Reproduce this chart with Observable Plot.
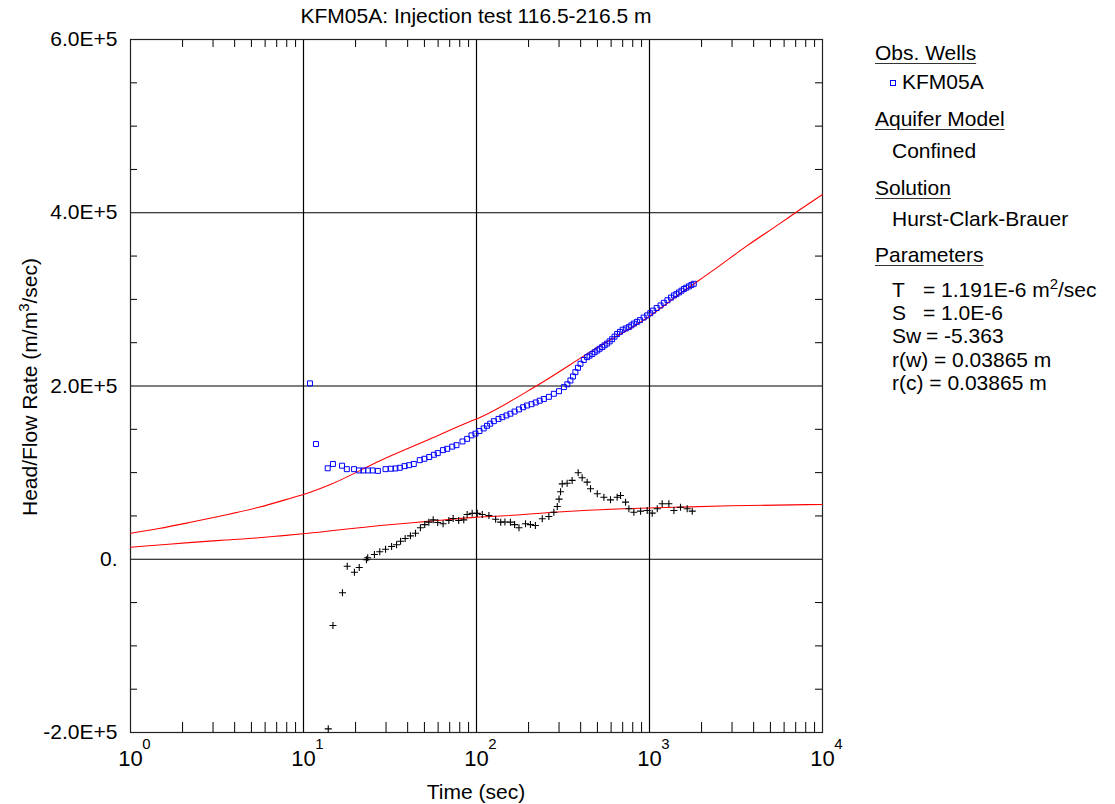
<!DOCTYPE html>
<html>
<head>
<meta charset="utf-8">
<script src="https://cdn.jsdelivr.net/npm/d3@7"></script>
<script src="https://cdn.jsdelivr.net/npm/@observablehq/plot@0.6"></script>
<style>
  body { margin: 0; background: #fff; }
  #wrap { position: relative; width: 1115px; height: 804px; font-family: "Liberation Sans", Arial, sans-serif; color: #000; }
  .t { position: absolute; white-space: nowrap; font-size: 21px; line-height: 21px; }
  .u { text-decoration: underline; text-decoration-thickness: 1px; text-underline-offset: 3px; text-decoration-color: #333; }
  sup { font-size: 15px; line-height: 0; vertical-align: 8px; }
  #plotbox { position: absolute; left: 0; top: 0; }
</style>
</head>
<body>
<div id="wrap"><div id="plotbox"></div></div>
<script>
// ---------- data ----------
const titleText = "KFM05A: Injection test 116.5-216.5 m";
const xLabelText = "Time (sec)";

// x axis (log): decades and their exponent labels
const xMajor = [1, 10, 100, 1000, 10000];
const xExpLabels = ["0", "1", "2", "3", "4"];
const xGrid = [10, 100, 1000];
const xMinor = [2,3,4,5,6,7,8,9,20,30,40,50,60,70,80,90,200,300,400,500,600,700,800,900,2000,3000,4000,5000,6000,7000,8000,9000];

// y axis
const yTicks = [-200000, 0, 200000, 400000, 600000];
const yTickLabels = ["-2.0E+5", "0.", "2.0E+5", "4.0E+5", "6.0E+5"];
const yGrid = [0, 200000, 400000];
const yMinor = [-150000,-100000,-50000,50000,100000,150000,250000,300000,350000,450000,500000,550000];

// observed head/flow (blue squares), t in sec, value in 1E5 units
const obsT = [10.9,11.8,13.8,14.8,16.7,17.8,19.6,20.9,22.2,23.6,25.1,26.9,29.8,32,34,36,38.4,40.8,43.4,47,50,53.3,56.7,59.7,64.1,67.7,72.4,76.6,83,88.3,93.5,98.6,104,110,115,120,126,134,141,149,157,166,176,186,196,208,220,232,245,262,280,300,320,335,349,361,373,386,399,417,436,450,467,482,499,515,533,550,569,588,608,628,650,675,700,730,760,785,812,845,880,925,970,1010,1050,1100,1158,1210,1270,1330,1384,1430,1480,1530,1580,1630,1690,1745,1803];
const obsH = [2.03,1.33,1.05,1.10,1.08,1.04,1.04,1.025,1.025,1.025,1.025,1.02,1.04,1.045,1.048,1.056,1.075,1.086,1.10,1.144,1.16,1.18,1.206,1.225,1.26,1.275,1.30,1.317,1.36,1.39,1.43,1.45,1.48,1.51,1.54,1.565,1.594,1.62,1.64,1.66,1.68,1.705,1.73,1.755,1.775,1.79,1.81,1.83,1.85,1.875,1.91,1.94,1.987,2.02,2.064,2.11,2.16,2.21,2.257,2.30,2.333,2.35,2.37,2.39,2.41,2.43,2.45,2.47,2.49,2.515,2.54,2.57,2.60,2.625,2.65,2.665,2.68,2.70,2.72,2.74,2.76,2.79,2.815,2.84,2.87,2.90,2.93,2.96,2.99,3.02,3.045,3.06,3.08,3.10,3.12,3.135,3.15,3.165,3.18];

// derivative (black crosses)
const derT = [13.9,14.8,16.8,17.9,19.7,21,23.1,23.5,25.7,27.6,29.8,32.3,34.5,36.4,38.7,41.5,44.4,47.4,50.2,53,56.2,59.7,64.1,69.2,73.3,78.9,84.4,88.3,94.4,101,108,118,129,138,146,157,166,176,192,205,219,240,262,280,293,300,306,313,334,357,387,408,436,456,499,545,595,650,680,727,760,812,888,970,1037,1109,1184,1294,1384,1511,1651,1766];
const derH = [-1.958,-0.765,-0.387,-0.08,-0.15,-0.095,-0.006,0.017,0.055,0.086,0.116,0.147,0.167,0.208,0.24,0.27,0.30,0.363,0.40,0.428,0.455,0.424,0.41,0.447,0.47,0.447,0.455,0.517,0.53,0.53,0.517,0.505,0.462,0.428,0.43,0.428,0.40,0.363,0.41,0.40,0.39,0.467,0.494,0.543,0.609,0.694,0.78,0.87,0.878,0.91,0.998,0.94,0.89,0.813,0.756,0.716,0.686,0.716,0.736,0.659,0.583,0.543,0.555,0.563,0.532,0.583,0.64,0.64,0.563,0.60,0.583,0.555];

// fitted model curve (red, upper)
const fitT = [1,1.46,2.27,3.54,5.52,8.6,10.3,14.3,27.9,54.2,80.9,105.5,224,477,991,1511,2354,3672,5717,6980,10000];
const fitH = [0.30,0.355,0.43,0.51,0.60,0.71,0.756,0.863,1.14,1.39,1.545,1.64,2.006,2.42,2.80,3.07,3.34,3.62,3.88,4.0,4.21];

// fitted derivative curve (red, lower)
const fitDT = [1,1.46,2.27,3.54,5.52,7.36,10.3,27.9,54.2,101,138,280,710,1384,2940,10000];
const fitDH = [0.139,0.165,0.195,0.222,0.248,0.27,0.297,0.39,0.44,0.486,0.499,0.543,0.583,0.60,0.617,0.632];

// legend texts
const legendWell = "KFM05A";
const legendModel = "Confined";
const legendSolution = "Hurst-Clark-Brauer";

// ---------- build ----------
const E5 = 100000;
const obs = obsT.map((t, i) => ({t, h: obsH[i] * E5}));
const der = derT.map((t, i) => ({t, h: derH[i] * E5}));
const fit = fitT.map((t, i) => ({t, h: fitH[i] * E5}));
const fitD = fitDT.map((t, i) => ({t, h: fitDH[i] * E5}));
const yLabelMap = new Map(yTicks.map((v, i) => [v, yTickLabels[i]]));
const expMap = new Map(xMajor.map((v, i) => [v, xExpLabels[i]]));

const W = 1115, H = 804, mL = 130, mR = 293, mT = 39, mB = 72;
const frameW = W - mL - mR, frameH = H - mT - mB;

const chart = Plot.plot({
  width: W, height: H,
  marginLeft: mL, marginRight: mR, marginTop: mT, marginBottom: mB,
  style: { fontFamily: "Liberation Sans, Arial, sans-serif", fontSize: "21px", background: "white", color: "black", overflow: "visible" },
  x: { type: "log", domain: [1, 10000], axis: null },
  y: { domain: [-200000, 600000] },
  marks: [
    Plot.ruleX(xGrid, { stroke: "black", strokeWidth: 1.2 }),
    Plot.ruleY(yGrid, { stroke: "black", strokeWidth: 1.2 }),
    Plot.tickX(xMinor, { x: d => d, insetTop: frameH - 10, stroke: "black" }),
    Plot.tickX(xMinor, { x: d => d, insetBottom: frameH - 8, stroke: "black" }),
    Plot.tickY(yMinor, { y: d => d, insetRight: frameW - 7, stroke: "black" }),
    Plot.tickY(yMinor, { y: d => d, insetLeft: frameW - 7, stroke: "black" }),
    Plot.frame({ stroke: "#222", strokeWidth: 1.2 }),
    Plot.line(fit, { x: "t", y: "h", stroke: "#ff0000", strokeWidth: 1.1, curve: "monotone-x" }),
    Plot.line(fitD, { x: "t", y: "h", stroke: "#ff0000", strokeWidth: 1.1, curve: "monotone-x" }),
    Plot.dot(obs, { x: "t", y: "h", symbol: "square", stroke: "#0000ff", fill: "none", r: 2.8, strokeWidth: 1 }),
    Plot.dot(der, { x: "t", y: "h", symbol: "plus", stroke: "black", r: 2.4, strokeWidth: 1.1 }),
    Plot.axisY(yTicks, { tickSize: 0, tickPadding: 13, tickFormat: d => yLabelMap.get(d), fontSize: 21, label: null }),
    Plot.text(xMajor, { x: d => d, text: d => "10", frameAnchor: "bottom", dy: 33, fontSize: 22 }),
    Plot.text(xMajor, { x: d => d, text: d => expMap.get(d), frameAnchor: "bottom", dy: 16, dx: 16, fontSize: 15 })
  ]
});
document.getElementById("plotbox").appendChild(chart);

// ---------- overlay texts (title, axis titles, legend) ----------
const wrap = document.getElementById("wrap");
const ASC = 17.8; // baseline offset for 21px line box
function addText(html, x, baseline, opts = {}) {
  const d = document.createElement("div");
  d.className = "t" + (opts.cls ? " " + opts.cls : "");
  d.innerHTML = html;
  d.style.top = (baseline - ASC) + "px";
  if (opts.center) { d.style.left = (x - 400) + "px"; d.style.width = "800px"; d.style.textAlign = "center"; }
  else d.style.left = x + "px";
  wrap.appendChild(d);
  return d;
}
addText(titleText, 476, 22.5, { center: true });
addText(xLabelText, 476, 799, { center: true });

// y-axis title (rotated)
const yl = document.createElement("div");
yl.className = "t";
yl.innerHTML = "Head/Flow Rate (m/m<sup>3</sup>/sec)";
yl.style.left = "0px"; yl.style.top = "0px";
yl.style.transformOrigin = "0 0";
yl.style.transform = `translate(37px, 387px) rotate(-90deg) translate(-50%, -${ASC}px)`;
wrap.appendChild(yl);

// legend
addText("Obs. Wells", 875, 60, { cls: "u" });
const sq = document.createElement("div");
sq.style.cssText = "position:absolute;left:889.5px;top:79.5px;width:4px;height:4px;border:1px solid #0000ff;";
wrap.appendChild(sq);
addText(legendWell, 902, 89);
addText("Aquifer Model", 875, 126, { cls: "u" });
addText(legendModel, 892, 158);
addText("Solution", 875, 195, { cls: "u" });
addText(legendSolution, 892, 225.5);
addText("Parameters", 875, 262, { cls: "u" });
addText("T", 892, 296.5);
addText("= 1.191E-6 m<sup>2</sup>/sec", 923, 296.5);
addText("S", 892, 319.5);
addText("= 1.0E-6", 923, 319.5);
addText("Sw", 892, 343);
addText("= -5.363", 926, 343);
addText("r(w) = 0.03865 m", 892, 366.5);
addText("r(c) = 0.03865 m", 892, 390);
</script>
</body>
</html>
